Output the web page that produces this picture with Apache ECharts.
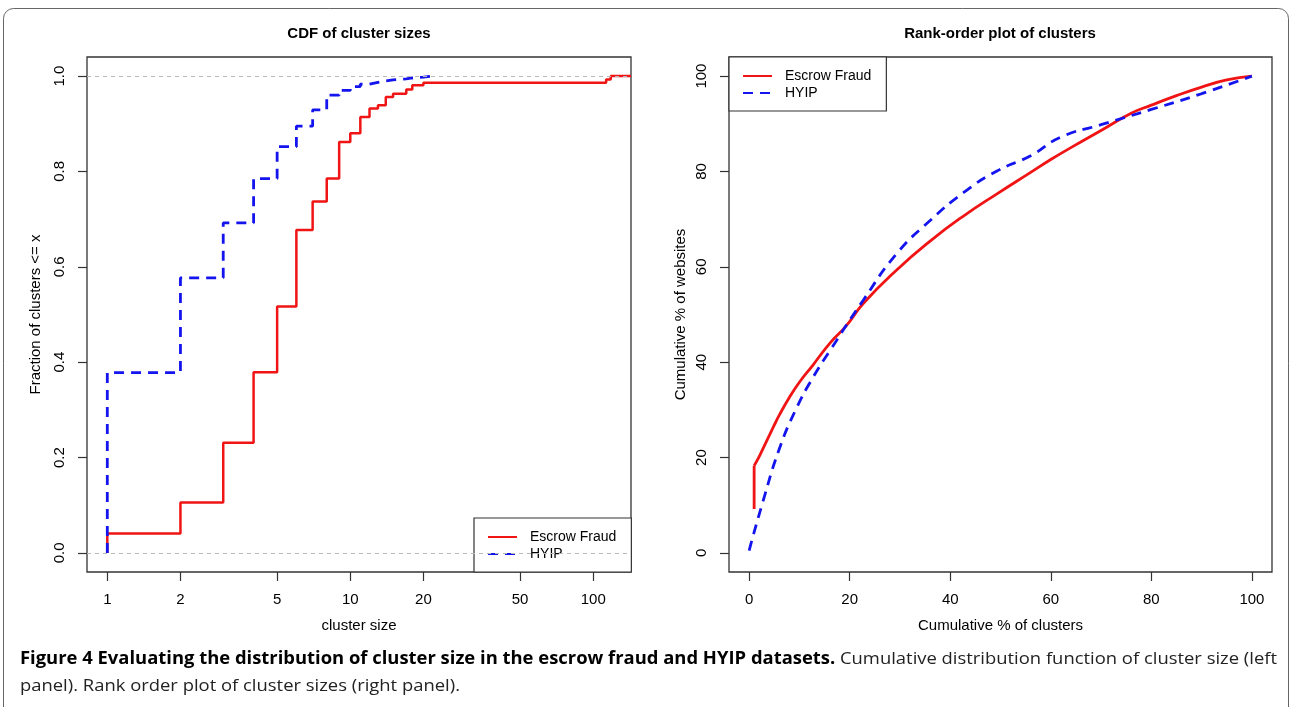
<!DOCTYPE html>
<html>
<head>
<meta charset="utf-8">
<script src="https://cdn.jsdelivr.net/npm/echarts@6/dist/echarts.min.js"></script>
<style>
html, body { margin: 0; padding: 0; background: #fff; }
#chart { width: 1292px; height: 707px; }
</style>
</head>
<body>
<div id="chart"></div>
<script>
// left panel: empirical CDF of cluster sizes (x = size, y = fraction <= x)
var escrowSizes = [1, 1, 2, 3, 4, 5, 6, 7, 8, 9, 10, 11, 12, 13, 14, 15, 17, 18, 20, 113, 118, 143];
var escrowCdf   = [0, 0.041, 0.106, 0.231, 0.379, 0.517, 0.677, 0.737, 0.785, 0.862, 0.880, 0.914, 0.932, 0.939, 0.956, 0.963, 0.972, 0.981, 0.986, 0.993, 1.0, 1.0];
var hyipSizes = [1, 1, 2, 3, 4, 5, 6, 7, 8, 9, 10, 11, 12, 13, 14, 15, 17, 18, 20, 22];
var hyipCdf   = [0, 0.378, 0.577, 0.692, 0.785, 0.852, 0.895, 0.929, 0.960, 0.970, 0.978, 0.983, 0.987, 0.990, 0.992, 0.994, 0.996, 0.998, 1.0, 1.0];

// right panel: rank-order (cumulative % of clusters vs cumulative % of websites)
var escrowStartX = [1, 1];
var escrowStartY = [9.2, 18.3];
var escrowRankX = [1, 2, 3, 4, 5, 6, 8, 10, 12.7, 16, 19.3, 22.7, 29.3, 36, 42.7, 49.3, 56, 60, 64, 70, 76, 80, 85, 90, 95, 100];
var escrowRankY = [18.3, 20.2, 22.4, 24.6, 26.8, 28.9, 32.6, 35.8, 39.4, 43.9, 47.6, 52.3, 59.3, 65.4, 70.7, 75.3, 79.8, 82.5, 85, 88.6, 92.2, 93.9, 95.9, 97.7, 99.2, 100];
var hyipRankX = [0, 2.7, 6, 9.3, 12.7, 16, 22.7, 29.3, 36, 42.7, 49.3, 56, 62, 70, 80, 90, 100];
var hyipRankY = [0.5, 10.6, 21.8, 30.1, 36.8, 42.3, 53, 62.7, 69.7, 75.6, 80.1, 83.3, 87.2, 89.8, 93, 96.3, 100];

var sizeTicks = [1, 2, 5, 10, 20, 50, 100];
var cdfTicks = [0, 0.2, 0.4, 0.6, 0.8, 1.0];
var pctTicks = [0, 20, 40, 60, 80, 100];

var captionBold = 'Figure 4 Evaluating the distribution of cluster size in the escrow fraud and HYIP datasets.';
var captionRest = ' Cumulative distribution function of cluster size (left';
var captionLine2 = 'panel). Rank order plot of cluster sizes (right panel).';

var RED = '#f01414';
var BLUE = '#1414ee';
var FONT = '"Liberation Sans", Arial, sans-serif';

function zip(xs, ys) {
    var out = [];
    for (var i = 0; i < xs.length; i++) out.push([xs[i], ys[i]]);
    return out;
}

// squeeze the caption to the width of the original line
var ctx = document.createElement('canvas').getContext('2d');
ctx.font = 'bold 17px "Open Sans"';
var wBold = ctx.measureText(captionBold).width;
ctx.font = '17px "Open Sans"';
var wRest = ctx.measureText(captionRest).width;
var capScale = 1257 / (wBold + wRest);

var axisText = { color: '#000', fontFamily: FONT, fontSize: 15 };
var tickStyle = { color: '#333', width: 1.2 };

function yAxisOf(idx, ticks, min, max, fmt, gap) {
    return {
        type: 'value', gridIndex: idx, min: min, max: max,
        name: idx === 0 ? 'Fraction of clusters <= x' : 'Cumulative % of websites',
        nameLocation: 'middle', nameGap: gap,
        nameTextStyle: axisText,
        axisLine: { show: false, onZero: false },
        splitLine: { show: false },
        axisTick: { show: true, length: 9, customValues: ticks, lineStyle: tickStyle },
        axisLabel: { customValues: ticks, rotate: 90, margin: 20, formatter: fmt, color: '#000', fontFamily: FONT, fontSize: 15 }
    };
}

function legendAt(left, top) {
    return {
        orient: 'vertical', left: left, top: top, padding: [12, 15, 11, 13], itemGap: 3,
        itemWidth: 29, itemHeight: 14, borderColor: '#333', borderWidth: 1.2, borderRadius: 0,
        backgroundColor: '#fff', data: ['Escrow Fraud', 'HYIP'],
        itemStyle: { opacity: 0 },
        textStyle: { fontFamily: FONT, fontSize: 14, color: '#000', padding: [0, 0, 0, 8] }
    };
}

var chart = echarts.init(document.getElementById('chart'));
chart.setOption({
    animation: false,
    backgroundColor: '#fff',
    title: [
        { text: 'CDF of cluster sizes', left: 359, top: 26, textAlign: 'center', padding: 0,
          textStyle: { fontFamily: FONT, fontWeight: 'bold', fontSize: 15, color: '#000' } },
        { text: 'Rank-order plot of clusters', left: 1000, top: 26, textAlign: 'center', padding: 0,
          textStyle: { fontFamily: FONT, fontWeight: 'bold', fontSize: 15, color: '#000' } }
    ],
    grid: [
        { left: 87, top: 57, width: 544, height: 515, show: true, borderColor: '#333', borderWidth: 1.3, backgroundColor: 'transparent' },
        { left: 729, top: 57, width: 543, height: 515, show: true, borderColor: '#333', borderWidth: 1.3, backgroundColor: 'transparent' }
    ],
    legend: [legendAt(474, 518), legendAt(729, 57)],
    xAxis: [
        { type: 'log', logBase: 10, gridIndex: 0, min: 0.825, max: 143,
          name: 'cluster size', nameLocation: 'middle', nameGap: 46, nameTextStyle: axisText,
          axisLine: { show: false, onZero: false }, splitLine: { show: false }, minorTick: { show: false },
          axisTick: { show: true, length: 9, customValues: sizeTicks, lineStyle: tickStyle },
          axisLabel: { customValues: sizeTicks, margin: 20, color: '#000', fontFamily: FONT, fontSize: 15,
                       formatter: function (v) { return String(Math.round(v)); } } },
        { type: 'value', gridIndex: 1, min: -4, max: 104,
          name: 'Cumulative % of clusters', nameLocation: 'middle', nameGap: 46, nameTextStyle: axisText,
          axisLine: { show: false, onZero: false }, splitLine: { show: false },
          axisTick: { show: true, length: 9, customValues: pctTicks, lineStyle: tickStyle },
          axisLabel: { customValues: pctTicks, margin: 20, color: '#000', fontFamily: FONT, fontSize: 15 } }
    ],
    yAxis: [
        yAxisOf(0, cdfTicks, -0.04, 1.04, function (v) { return v.toFixed(1); }, 44),
        yAxisOf(1, pctTicks, -4, 104, function (v) { return String(v); }, 41)
    ],
    series: [
        { name: 'Escrow Fraud', type: 'line', xAxisIndex: 0, yAxisIndex: 0, step: 'end', symbol: 'none',
          data: zip(escrowSizes, escrowCdf), lineStyle: { color: RED, width: 2.5 }, itemStyle: { color: RED },
          markLine: { silent: true, symbol: ['none', 'none'], label: { show: false },
                      lineStyle: { color: '#b8b8b8', type: [4, 4], width: 1 },
                      data: [{ yAxis: 0 }, { yAxis: 1 }] } },
        { name: 'HYIP', type: 'line', xAxisIndex: 0, yAxisIndex: 0, step: 'end', symbol: 'none',
          data: zip(hyipSizes, hyipCdf), lineStyle: { color: BLUE, width: 2.8, type: [10, 7] }, itemStyle: { color: BLUE } },
        { name: 'Escrow Fraud', type: 'line', xAxisIndex: 1, yAxisIndex: 1, symbol: 'none',
          data: zip(escrowStartX, escrowStartY), lineStyle: { color: RED, width: 2.8 }, itemStyle: { color: RED } },
        { name: 'Escrow Fraud', type: 'line', xAxisIndex: 1, yAxisIndex: 1, symbol: 'none', smooth: 0.5,
          data: zip(escrowRankX, escrowRankY), lineStyle: { color: RED, width: 2.8 }, itemStyle: { color: RED } },
        { name: 'HYIP', type: 'line', xAxisIndex: 1, yAxisIndex: 1, symbol: 'none', smooth: 0.5,
          data: zip(hyipRankX, hyipRankY), lineStyle: { color: BLUE, width: 2.8, type: [10, 7] }, itemStyle: { color: BLUE } }
    ],
    graphic: [
        { type: 'rect', silent: true, shape: { x: 3.5, y: 8.5, width: 1285, height: 760, r: 10 },
          style: { fill: 'none', stroke: '#666', lineWidth: 1 } },
        { type: 'text', x: 20, y: 659, scaleX: capScale, silent: true,
          style: { text: '{b|' + captionBold + '}{n|' + captionRest + '}', verticalAlign: 'middle',
                   rich: { b: { fontFamily: '"Open Sans"', fontWeight: 'bold', fontSize: 17, fill: '#000' },
                           n: { fontFamily: '"Open Sans"', fontSize: 17, fill: '#222' } } } },
        { type: 'text', x: 20, y: 686, scaleX: capScale, silent: true,
          style: { text: captionLine2, verticalAlign: 'middle', fontFamily: '"Open Sans"', fontSize: 17, fill: '#222' } }
    ]
});
</script>
</body>
</html>
